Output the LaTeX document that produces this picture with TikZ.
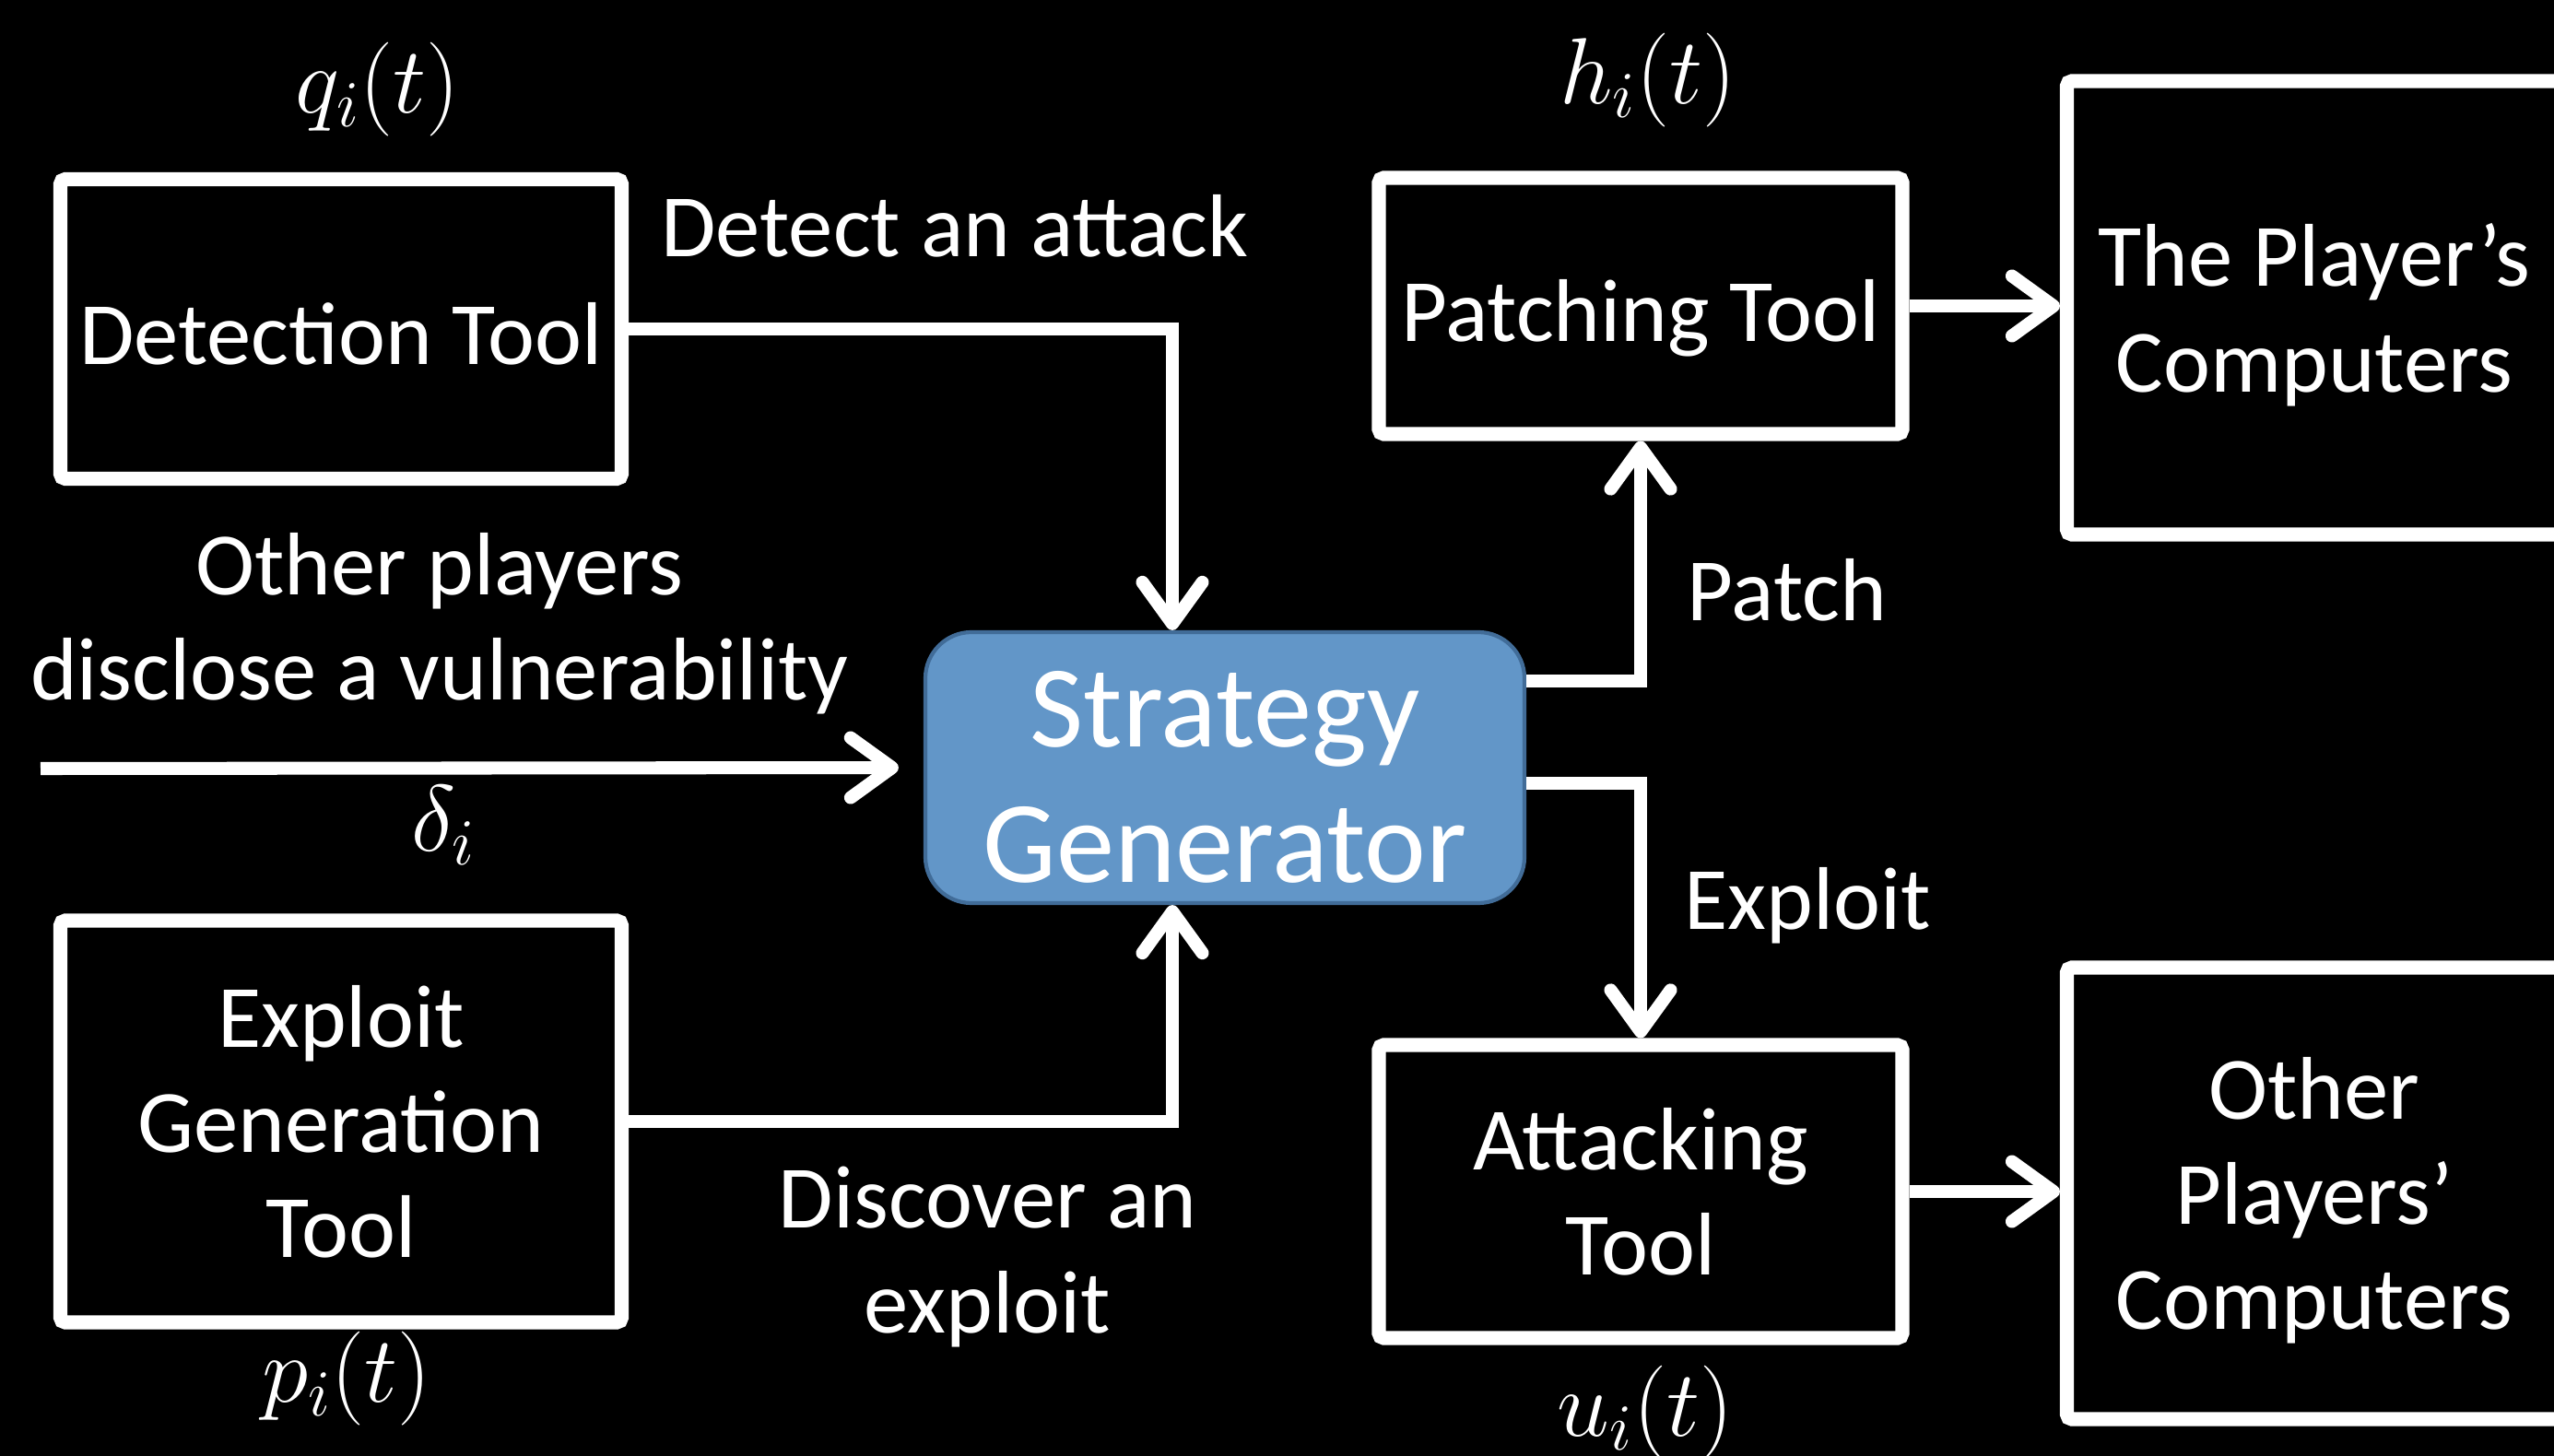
\RequirePackage{fix-cm}
\documentclass[tikz,border=0pt]{standalone}
\usepackage{fontspec}
\setmainfont{Carlito}
\usetikzlibrary{arrows.meta, positioning}
\definecolor{sgfill}{RGB}{98,150,200}
\definecolor{sgdraw}{RGB}{65,108,152}
\tikzstyle{toolbox} = [rectangle, draw=white, line width=4.3pt, rounded corners=1.5pt, fill=black, text=white, align=center, text depth=0pt, font=\fontsize{27.5}{32.5}\selectfont]
\tikzstyle{oneline} = [text height=22pt, text depth=0pt]
\tikzstyle{pcbox} = [toolbox, minimum width=5.37cm]
\tikzstyle{generator} = [rectangle, rounded corners=0.5cm, draw=sgdraw, line width=1.2pt, fill=sgfill, text=white, align=center, text height=71pt, text depth=0pt, minimum width=6.5cm, minimum height=2.94cm, font=\fontsize{36}{42}\selectfont]
\tikzstyle{lbl} = [text=white, align=center, font=\fontsize{27.5}{32.5}\selectfont]
\tikzstyle{mathlbl} = [text=white, font=\fontsize{29}{34}\selectfont]
\tikzstyle{arrow} = [white, line width=4pt, -{Straight Barb[length=0.45cm, width=0.65cm, round]}]

\begin{document}
\begin{tikzpicture}
    \useasboundingbox (0,0) rectangle (27.71,-15.80);
    \fill[black] (0,0) rectangle (27.71,-15.80);
    \clip (0,0) rectangle (27.71,-15.80);

    \node (det) [toolbox, oneline, minimum width=6.09cm, minimum height=3.25cm] at (3.70,-3.57) {Detection Tool};
    \node (egt) [toolbox, minimum width=6.09cm, minimum height=4.36cm] at (3.70,-12.17) {Exploit\\Generation\\Tool};
    \node (sg) [generator] at (13.29,-8.33) {Strategy\\Generator};
    \node (pt) [toolbox, oneline, minimum width=5.68cm, minimum height=2.78cm] at (17.80,-3.32) {Patching Tool};
    \node (at) [toolbox, minimum width=5.68cm, minimum height=3.18cm] at (17.80,-12.93) {Attacking\\Tool};
    \node (pc) [pcbox, minimum height=4.92cm] at (25.11,-3.34) {The Player’s\\Computers};
    \node (opc) [pcbox, minimum height=4.90cm] at (25.11,-12.95) {Other\\Players’\\Computers};
    \coordinate (vin) at (0.44,-8.34);

    \node (qlbl) [mathlbl, above of=det, node distance=2.60cm, xshift=0.40cm] {$q_i(t)$};
    \node (hlbl) [mathlbl, above of=pt, node distance=2.45cm, xshift=0.08cm] {$h_i(t)$};
    \node (plbl) [mathlbl, below of=egt, node distance=2.79cm, xshift=0.06cm] {$p_i(t)$};
    \node (ulbl) [mathlbl, below of=at, node distance=2.40cm, xshift=0.05cm] {$u_i(t)$};

    \draw [arrow] (det.east) -| ([xshift=-0.57cm]sg.north) node[lbl, pos=0.3, anchor=base, yshift=0.78cm] {Detect an attack};
    \draw [arrow] (egt.east) -| ([xshift=-0.57cm]sg.south) node[lbl, pos=0.33, anchor=north, inner sep=0pt, yshift=-0.42cm] {Discover an\\exploit};
    \draw [arrow] (vin) -- ([xshift=-0.27cm]sg.west) node[lbl, pos=0.465, anchor=south, inner sep=0pt, yshift=0.51cm] {Other players\\disclose a vulnerability} node[mathlbl, pos=0.47, below] {$\delta_i$};
    \draw [arrow] ([yshift=0.94cm]sg.east) -| (pt.south) node[lbl, pos=0.69, right, xshift=0.32cm] {Patch};
    \draw [arrow] ([yshift=-0.17cm]sg.east) -| (at.north) node[lbl, pos=0.74, right, xshift=0.29cm] {Exploit};
    \draw [arrow] (pt.east) -- (pt.east -| pc.west);
    \draw [arrow] (at.east) -- (at.east -| opc.west);
\end{tikzpicture}
\end{document}
